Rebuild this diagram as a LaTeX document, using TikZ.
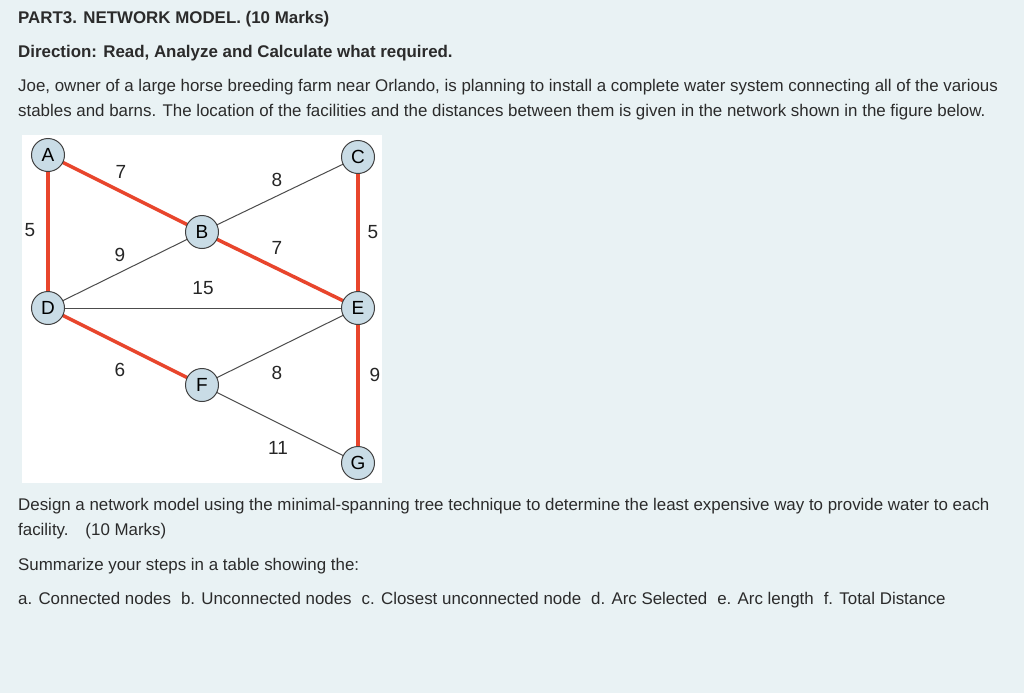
\documentclass[tikz,border=0pt]{standalone}
\usepackage{fontspec}
\setmainfont{Liberation Sans}
\definecolor{bg}{HTML}{E9F2F4}
\definecolor{txt}{HTML}{2B2B2B}
\definecolor{red1}{HTML}{E8452C}
\definecolor{nodefill}{HTML}{C9DCE6}
\begin{document}
\begin{tikzpicture}[x=1pt,y=-1pt,
  t/.style={anchor=west,inner sep=0pt,text=txt,font=\fontsize{16.9}{19}\selectfont},
  v/.style={circle,draw=black!75,fill=nodefill,line width=1pt,minimum size=33pt,inner sep=0pt,font=\fontsize{19}{21}\selectfont},
  lab/.style={inner sep=0pt,font=\fontsize{19}{21}\selectfont,text=black!85},
  thin edge/.style={draw=black!70,line width=1pt},
  mst/.style={draw=red1,line width=3.5pt}]
\useasboundingbox[fill=bg] (0,0) rectangle (1024,693);
\fill[white] (22,135) rectangle (382,483);
\node[t] (l1) at (18,19) {\bfseries PART3. NETWORK MODEL. (10 Marks)};
\node[t] (l2) at (18,53) {\bfseries Direction: Read, Analyze and Calculate what required.};
\node[t] (l3) at (18,87) {Joe, owner of a large horse breeding farm near Orlando, is planning to install a complete water system connecting all of the various};
\node[t] (l4) at (18,112) {stables and barns. The location of the facilities and the distances between them is given in the network shown in the figure below.};
\node[t] (l5) at (18,506) {Design a network model using the minimal-spanning tree technique to determine the least expensive way to provide water to each};
\node[t] (l6) at (18,531) {facility.\quad (10 Marks)};
\node[t] (l7) at (18,566) {Summarize your steps in a table showing the:};
\node[t] (l8) at (18,600) {a. Connected nodes\hspace{10pt}b. Unconnected nodes\hspace{10pt}c. Closest unconnected node\hspace{10pt}d. Arc Selected\hspace{10pt}e. Arc length\hspace{10pt}f. Total Distance};
\coordinate (pa) at (48,155); \coordinate (pc) at (358,157);
\coordinate (pb) at (202,232); \coordinate (pd) at (48,308);
\coordinate (pe) at (358,308); \coordinate (pf) at (202,385);
\coordinate (pg) at (358,463);
\draw[thin edge] (pb) -- (pc); \draw[thin edge] (pd) -- (pb);
\draw[thin edge] (pd) -- (pe); \draw[thin edge] (pf) -- (pe);
\draw[thin edge] (pf) -- (pg);
\draw[mst] (pa) -- (pb); \draw[mst] (pa) -- (pd); \draw[mst] (pb) -- (pe);
\draw[mst] (pc) -- (pe); \draw[mst] (pd) -- (pf); \draw[mst] (pe) -- (pg);
\node[v] (A) at (pa) {A}; \node[v] (C) at (pc) {C};
\node[v] (B) at (pb) {B}; \node[v] (D) at (pd) {D};
\node[v] (E) at (pe) {E}; \node[v] (F) at (pf) {F};
\node[v] (G) at (pg) {G};
\node[lab] (w1) at (121,172) {7};
\node[lab] (w2) at (277,180) {8};
\node[lab] (w3) at (30,230) {5};
\node[lab] (w4) at (120,255) {9};
\node[lab] (w5) at (277,248) {7};
\node[lab] (w6) at (373,232) {5};
\node[lab] (w7) at (203,288) {15};
\node[lab] (w8) at (120,370) {6};
\node[lab] (w9) at (277,373) {8};
\node[lab] (w10) at (375,375) {9};
\node[lab] (w11) at (278,448) {11};
\end{tikzpicture}
\end{document}
